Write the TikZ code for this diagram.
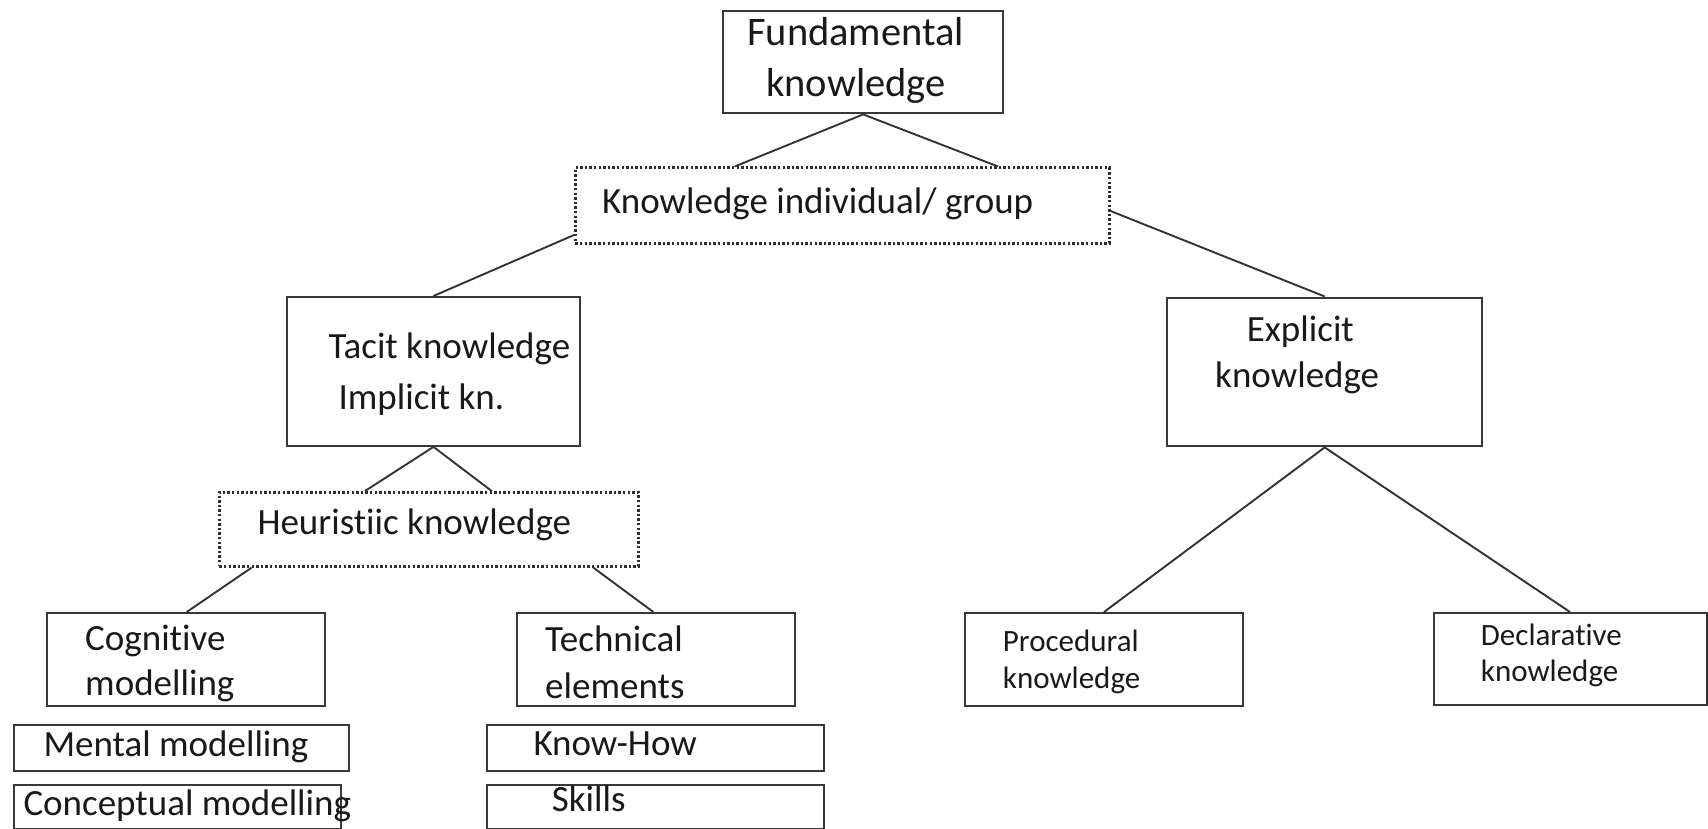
\documentclass[tikz,border=0pt]{standalone}
\usepackage{fontspec}
\setmainfont{Carlito}[Ligatures={NoCommon}]
\begin{document}
\begin{tikzpicture}[x=1pt,y=-1pt,
  box/.style={draw=black!78, line width=2.4pt, rectangle, inner sep=0pt, anchor=north west},
  dotbox/.style={draw=black!82, line width=2.6pt, dash pattern=on 2.4pt off 2.2pt, rectangle, inner sep=0pt, anchor=north west},
  link/.style={draw=black!80, line width=1.9pt},
  txt/.style={anchor=base west, inner sep=0pt, text=black!90, font=\fontsize{37}{44}\selectfont},
  bigtxt/.style={txt, font=\fontsize{40.5}{48}\selectfont},
  smalltxt/.style={txt, font=\fontsize{31}{37}\selectfont}]
\useasboundingbox (0,0) rectangle (1708,829);

% boxes: (left, top) with width and height
\node[box, minimum width=280pt, minimum height=102pt] (fund) at (722,10) {};
\node[dotbox, minimum width=534pt, minimum height=75.5pt] (kig) at (574,166.5) {};
\node[box, minimum width=292.5pt, minimum height=148.5pt] (tacit) at (286,296) {};
\node[dotbox, minimum width=419pt, minimum height=74pt] (heur) at (218,491) {};
\node[box, minimum width=278pt, minimum height=92.5pt] (cog) at (46,612) {};
\node[box, minimum width=278pt, minimum height=92.5pt] (tech) at (516,612) {};
\node[box, minimum width=335.5pt, minimum height=46.5pt] (mental) at (12.5,723.5) {};
\node[box, minimum width=327.5pt, minimum height=44.5pt] (concept) at (12.5,783.5) {};
\node[box, minimum width=337pt, minimum height=46pt] (knowhow) at (486,724) {};
\node[box, minimum width=337pt, minimum height=44.5pt] (skills) at (486,783.5) {};
\node[box, minimum width=315pt, minimum height=148.5pt] (expl) at (1166,296.5) {};
\node[box, minimum width=277.5pt, minimum height=92.5pt] (proc) at (964,612) {};
\node[box, minimum width=273pt, minimum height=92pt] (decl) at (1433,612) {};

% texts
\node[bigtxt] (t-fund1) at (747,46) {Fundamental};
\node[bigtxt] (t-fund2) at (766,97) {knowledge};
\node[txt] (t-kig) at (602,214) {Knowledge individual/ group};
\node[txt] (t-tacit1) at (328.3,358) {Tacit knowledge};
\node[txt] (t-tacit2) at (338.3,409.5) {Implicit kn.};
\node[txt] (t-heur) at (257.3,534.5) {Heuristiic knowledge};
\node[txt] (t-cog1) at (85,650.7) {Cognitive};
\node[txt] (t-cog2) at (85,695) {modelling};
\node[txt] (t-tech1) at (545,651.7) {Technical};
\node[txt] (t-tech2) at (545,698.3) {elements};
\node[txt] (t-mental) at (43.3,756.7) {Mental modelling};
\node[txt] (t-concept) at (23.3,815) {Conceptual modelling};
\node[txt] (t-knowhow) at (533.3,755.7) {Know-How};
\node[txt] (t-skills) at (551.7,811.7) {Skills};
\node[txt] (t-expl1) at (1246.7,341.5) {Explicit};
\node[txt] (t-expl2) at (1215,387) {knowledge};
\node[smalltxt] (t-proc1) at (1002.7,651.7) {Procedural};
\node[smalltxt] (t-proc2) at (1002.7,688.3) {knowledge};
\node[smalltxt] (t-decl1) at (1480.7,645) {Declarative};
\node[smalltxt] (t-decl2) at (1480.7,681.7) {knowledge};

% connectors
\draw[link] (fund.south) -- ([xshift=160.7pt]kig.north west);
\draw[link] (fund.south) -- ([xshift=424pt]kig.north west);
\draw[link] ([yshift=-68.5pt]kig.north west) -- (tacit.north);
\draw[link] ([yshift=-44.5pt]kig.north east) -- (expl.north);
\draw[link] (tacit.south) -- ([xshift=147pt]heur.north west);
\draw[link] (tacit.south) -- ([xshift=273.7pt]heur.north west);
\draw[link] ([xshift=33.7pt]heur.south west) -- ([xshift=140.7pt]cog.north west);
\draw[link] ([xshift=375.3pt]heur.south west) -- ([xshift=137.3pt]tech.north west);
\draw[link] (expl.south) -- ([xshift=140pt]proc.north west);
\draw[link] (expl.south) -- ([xshift=137pt]decl.north west);
\end{tikzpicture}
\end{document}
